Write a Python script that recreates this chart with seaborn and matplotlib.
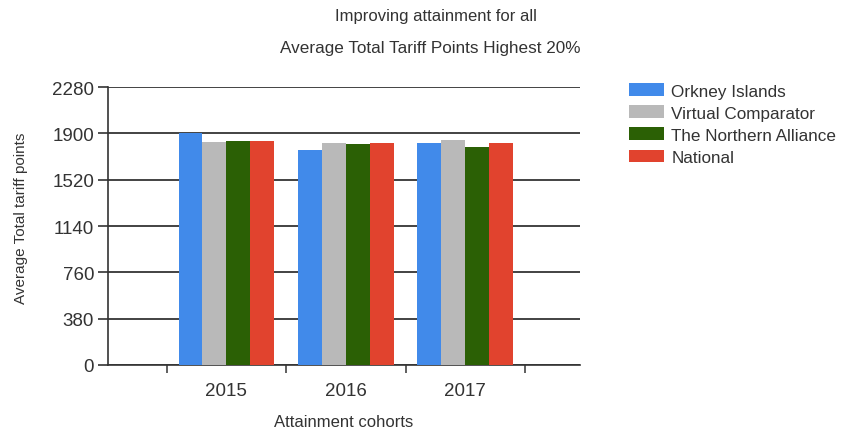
import numpy as np
import pandas as pd
import matplotlib
matplotlib.use("Agg")
import matplotlib.pyplot as plt
import seaborn as sns

# Data
years = ["2015", "2016", "2017"]
groups = ["Orkney Islands", "Virtual Comparator", "The Northern Alliance", "National"]
orkney = [1905, 1761, 1823]
virtual = [1826, 1823, 1848]
northern = [1834, 1810, 1785]
national = [1834, 1823, 1823]
colors = ["#418AEA", "#B9B9B9", "#2B6005", "#E1432E"]
yticks = [0, 380, 760, 1140, 1520, 1900, 2280]

df = pd.DataFrame({
    "year": years * 4,
    "group": [g for g in groups for _ in years],
    "points": orkney + virtual + northern + national,
})

sns.set_style("white", {"ytick.left": True, "xtick.bottom": True})
plt.rcParams["font.family"] = ["Liberation Sans", "DejaVu Sans"]

fig = plt.figure(figsize=(8.41, 4.31), dpi=100)
ax = fig.add_axes([108 / 841, 1 - 366 / 431, (580 - 108) / 841, (366 - 88) / 431])

sns.barplot(data=df, x="year", y="points", hue="group", hue_order=groups,
            palette=colors, width=0.8, saturation=1, linewidth=0,
            edgecolor="none", ax=ax, zorder=3)

ax.set_ylim(0, 2280)
ax.set_yticks(yticks)
ax.yaxis.grid(True, color="#222222", linewidth=1.2, zorder=0)
ax.set_xlim(-0.99, 2.96)

# tick marks between categories, labels at centres
ax.set_xticks([0, 1, 2])
ax.set_xticklabels(years)
ax.set_xticks([-0.5, 0.5, 1.5, 2.5], minor=True)
ax.tick_params(axis="x", which="major", bottom=False, length=0, labelsize=13.5,
               pad=12, labelcolor="#333333")
ax.tick_params(axis="x", which="minor", bottom=True, length=6, width=1.2,
               color="#444444", direction="out")
ax.tick_params(axis="y", which="major", left=True, length=7, width=1.2, color="#333333",
               direction="out", labelsize=13.5, pad=3, labelcolor="#333333")

for s in ["top", "right"]:
    ax.spines[s].set_visible(False)
for s in ["left", "bottom"]:
    ax.spines[s].set_color("#333333")
    ax.spines[s].set_linewidth(1.2)

ax.set_xlabel("Attainment cohorts", fontsize=12, color="#333333", labelpad=11)
ax.set_ylabel("Average Total tariff points", fontsize=11, color="#333333")
ax.yaxis.label.set_va("center")
ax.yaxis.set_label_coords((21 - 108) / 472, 0.532)

fig.text(436 / 841, 1 - 16 / 431, "Improving attainment for all", ha="center", va="center",
         fontsize=12, color="#333333")
fig.text(430 / 841, 1 - 49 / 431, "Average Total Tariff Points Highest 20%", ha="center",
         va="center", fontsize=12.3, color="#333333")

ax.legend(loc="upper left", bbox_to_anchor=(614 / 841, 1 - 69 / 431),
          bbox_transform=fig.transFigure, frameon=False, fontsize=12.3,
          handlelength=2.05, handleheight=0.75, handletextpad=0.4, labelspacing=0.4,
          labelcolor="#333333")

fig.savefig("out.png", dpi=100)
